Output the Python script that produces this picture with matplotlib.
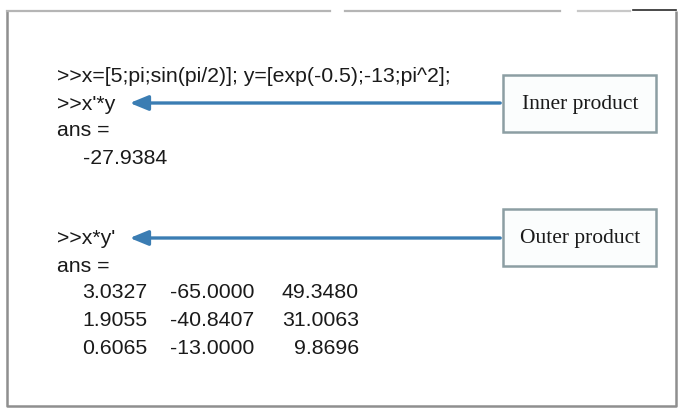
import matplotlib
matplotlib.use("Agg")
import matplotlib.pyplot as plt
from matplotlib.patches import Rectangle, FancyArrowPatch

# ---- data ----
cmd_define = ">>x=[5;pi;sin(pi/2)]; y=[exp(-0.5);-13;pi^2];"
cmd_inner = ">>x'*y"
cmd_outer = ">>x*y'"
inner_value = -27.9384
outer_rows = [
    [3.0327, -65.0000, 49.3480],
    [1.9055, -40.8407, 31.0063],
    [0.6065, -13.0000, 9.8696],
]
labels = ["Inner product", "Outer product"]

W, H = 689, 409
fig = plt.figure(figsize=(W / 100, H / 100), dpi=100)
ax = fig.add_axes([0, 0, 1, 1])
ax.set_xlim(0, W)
ax.set_ylim(H, 0)
ax.axis("off")
fig.patch.set_facecolor("white")

code_font = dict(family="Liberation Sans", fontsize=15.3, color="#1a1a1a", va="center")
label_font = dict(family="Liberation Serif", fontsize=15.5, color="#1a1a1a", va="center", ha="center")

# outer frame
ax.plot([7, 7, 676, 676], [11, 406, 406, 11], color="#8f8f8f", lw=1.8, solid_capstyle="butt")
ax.plot([7, 330], [11, 11], color="#b5b5b5", lw=1.6)
ax.plot([345, 560], [11, 11], color="#b5b5b5", lw=1.6)
ax.plot([578, 630], [11, 11], color="#c8c8c8", lw=1.6)
ax.plot([633, 676], [10, 10], color="#2a2a2a", lw=1.2)

x0 = 57
ax.text(x0, 76, cmd_define, **code_font)
ax.text(x0, 104, cmd_inner, **code_font)
ax.text(x0, 131, "ans =", **code_font)
ax.text(167, 158, f"{inner_value:.4f}", ha="right", **code_font)

ax.text(x0, 239, cmd_outer, **code_font)
ax.text(x0, 266, "ans =", **code_font)
col_right = [147, 254, 359]
for i, row in enumerate(outer_rows):
    y = 293 + 27.5 * i
    for j, v in enumerate(row):
        ax.text(col_right[j], y, f"{v:.4f}", ha="right", **code_font)

# label boxes and arrows
box_y = [75, 209]
arrow_tip = [(127, 103), (127, 238)]
for lab, by, tip in zip(labels, box_y, arrow_tip):
    ax.add_patch(Rectangle((503, by), 153, 57, facecolor="#fbfdfd",
                           edgecolor="#8c9ea3", lw=1.8))
    ax.text(580, by + 29, lab, **label_font)
    ax.add_patch(FancyArrowPatch((503, tip[1]), tip,
                                 arrowstyle="-|>,head_length=11,head_width=4.5",
                                 mutation_scale=1, color="#3b7db3", lw=2.4))

fig.savefig("out.png", dpi=100, facecolor="white")
